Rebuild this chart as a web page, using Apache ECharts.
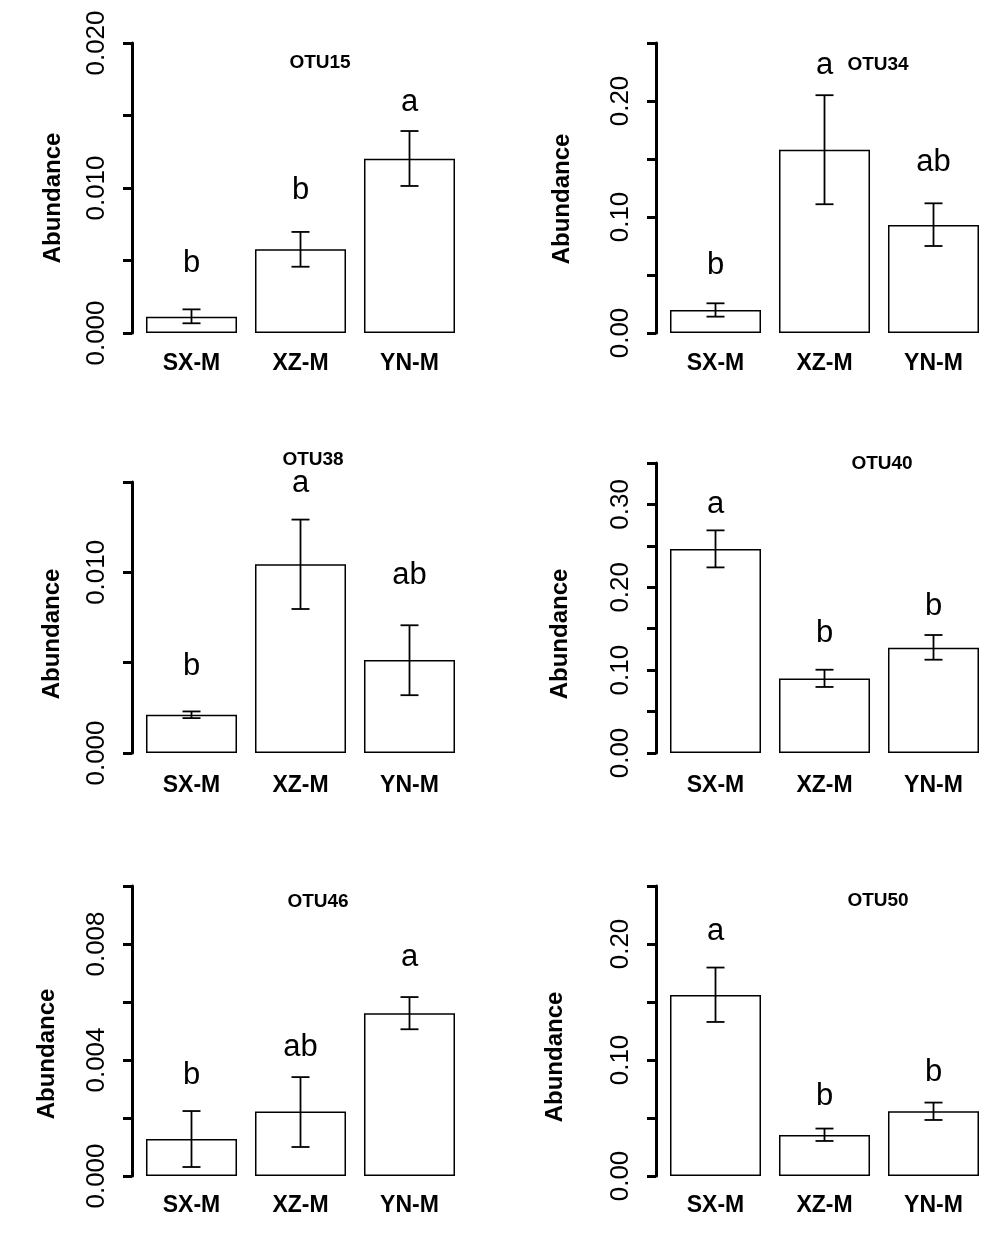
<!DOCTYPE html>
<html><head><meta charset="utf-8">
<script src="https://cdn.jsdelivr.net/npm/echarts@6/dist/echarts.min.js"></script>
<style>html,body{margin:0;padding:0;background:#fff}#c{width:1000px;height:1234px}</style>
</head><body><div id="c"></div>
<script>
// ---------- data ----------
const categories = ['SX-M', 'XZ-M', 'YN-M'];

const otu15Mean  = [0.00112, 0.00577, 0.01202];
const otu15Upper = [0.00163, 0.00697, 0.01393];
const otu15Lower = [0.00067, 0.00457, 0.01014];
const otu15Letters = ['b', 'b', 'a'];
const otu15LetterY = [0.00483, 0.00986, 0.01593];
const otu15Ticks = ['0.000', '0.010', '0.020'];

const otu34Mean  = [0.0198, 0.158, 0.0931];
const otu34Upper = [0.0256, 0.205, 0.1118];
const otu34Lower = [0.0141, 0.111, 0.075];
const otu34Letters = ['b', 'a', 'ab'];
const otu34LetterY = [0.0586, 0.231, 0.1474];
const otu34Ticks = ['0.00', '0.10', '0.20'];

const otu38Mean  = [0.00212, 0.01045, 0.00515];
const otu38Upper = [0.0023, 0.01292, 0.00707];
const otu38Lower = [0.00193, 0.00797, 0.0032];
const otu38Letters = ['b', 'a', 'ab'];
const otu38LetterY = [0.00478, 0.01491, 0.00985];
const otu38Ticks = ['0.000', '0.010'];

const otu40Mean  = [0.2462, 0.090, 0.127];
const otu40Upper = [0.2687, 0.1005, 0.1424];
const otu40Lower = [0.224, 0.0797, 0.1126];
const otu40Letters = ['a', 'b', 'b'];
const otu40LetterY = [0.2997, 0.1448, 0.1769];
const otu40Ticks = ['0.00', '0.10', '0.20', '0.30'];

const otu46Mean  = [0.001276, 0.00222, 0.00561];
const otu46Upper = [0.00224, 0.00341, 0.00617];
const otu46Lower = [0.00031, 0.001, 0.00506];
const otu46Letters = ['b', 'ab', 'a'];
const otu46LetterY = [0.00345, 0.00443, 0.00753];
const otu46Ticks = ['0.000', '0.004', '0.008'];

const otu50Mean  = [0.156, 0.0353, 0.0558];
const otu50Upper = [0.1797, 0.0409, 0.0633];
const otu50Lower = [0.1328, 0.0302, 0.0483];
const otu50Letters = ['a', 'b', 'b'];
const otu50LetterY = [0.2112, 0.069, 0.0891];
const otu50Ticks = ['0.00', '0.10', '0.20'];

// axis extents (max, tick interval)
const axisMax = [0.020, 0.25, 0.015, 0.35, 0.010, 0.25];
const axisInterval = [0.005, 0.05, 0.005, 0.05, 0.002, 0.05];

const panelNames = ['OTU15', 'OTU34', 'OTU38', 'OTU40', 'OTU46', 'OTU50'];
const panelData = [
  [otu15Mean, otu15Upper, otu15Lower, otu15Letters, otu15LetterY, otu15Ticks],
  [otu34Mean, otu34Upper, otu34Lower, otu34Letters, otu34LetterY, otu34Ticks],
  [otu38Mean, otu38Upper, otu38Lower, otu38Letters, otu38LetterY, otu38Ticks],
  [otu40Mean, otu40Upper, otu40Lower, otu40Letters, otu40LetterY, otu40Ticks],
  [otu46Mean, otu46Upper, otu46Lower, otu46Letters, otu46LetterY, otu46Ticks],
  [otu50Mean, otu50Upper, otu50Lower, otu50Letters, otu50LetterY, otu50Ticks]
];

// ---------- layout ----------
const FONT = '"Liberation Sans", Arial, Helvetica, sans-serif';
const grids = [
  { left: 137, top: 43,  width: 327, height: 290 },
  { left: 661, top: 43,  width: 327, height: 290 },
  { left: 137, top: 482, width: 327, height: 271 },
  { left: 661, top: 463, width: 327, height: 290 },
  { left: 137, top: 886, width: 327, height: 290 },
  { left: 661, top: 886, width: 327, height: 290 }
];
const titlePos = [[315, 48], [873, 50], [308, 445], [877, 449], [313, 887], [873, 886]];
const namePos = [[53, 198], [562, 199], [52, 634], [560, 634], [47, 1054], [555, 1057]];
const catMargin = [19, 19, 21, 21, 18, 18];

const option = {
  backgroundColor: '#ffffff',
  animation: false,
  title: [],
  grid: [],
  xAxis: [],
  yAxis: [],
  series: [],
  graphic: []
};

panelData.forEach(function (p, i) {
  const mean = p[0], upper = p[1], lower = p[2], letters = p[3], letterY = p[4], ticks = p[5];
  option.grid.push(Object.assign({ containLabel: false }, grids[i]));
  option.title.push({
    text: panelNames[i], left: titlePos[i][0], top: titlePos[i][1], textAlign: 'center',
    textStyle: { fontFamily: FONT, fontWeight: 'bold', fontSize: 19, color: '#000' }
  });
  option.xAxis.push({
    type: 'category', gridIndex: i, data: categories,
    axisLine: { show: false }, axisTick: { show: false }, splitLine: { show: false },
    axisLabel: { fontFamily: FONT, fontWeight: 'bold', fontSize: 23, color: '#000', margin: catMargin[i] }
  });
  option.yAxis.push({
    type: 'value', gridIndex: i, min: 0, max: axisMax[i], interval: axisInterval[i], offset: 5,
    axisLine: { show: true, lineStyle: { color: '#000', width: 3 } },
    axisTick: { show: true, length: 9, lineStyle: { color: '#000', width: 3 } },
    splitLine: { show: false },
    axisLabel: {
      rotate: 90, margin: 22, fontFamily: FONT, fontSize: 26, color: '#000',
      showMinLabel: true, showMaxLabel: true,
      formatter: function (v) {
        const s = ticks.find(function (t) { return Math.abs(parseFloat(t) - v) < 1e-9; });
        return s || '';
      }
    }
  });
  option.series.push({
    type: 'bar', xAxisIndex: i, yAxisIndex: i, data: mean, barWidth: '83.5%', z: 2,
    itemStyle: { color: '#ffffff', borderColor: '#000', borderWidth: 1.5 }
  });
  option.series.push({
    type: 'custom', xAxisIndex: i, yAxisIndex: i, clip: false, z: 10,
    data: mean.map(function (m, k) { return [k, lower[k], upper[k]]; }),
    encode: { x: 0, y: [1, 2] },
    renderItem: function (params, api) {
      const hi = api.coord([api.value(0), api.value(2)]);
      const lo = api.coord([api.value(0), api.value(1)]);
      const hw = 9;
      const st = { stroke: '#000', lineWidth: 1.8 };
      return {
        type: 'group', children: [
          { type: 'line', shape: { x1: hi[0], y1: hi[1], x2: lo[0], y2: lo[1] }, style: st },
          { type: 'line', shape: { x1: hi[0] - hw, y1: hi[1], x2: hi[0] + hw, y2: hi[1] }, style: st },
          { type: 'line', shape: { x1: lo[0] - hw, y1: lo[1], x2: lo[0] + hw, y2: lo[1] }, style: st }
        ]
      };
    }
  });
  option.series.push({
    type: 'custom', xAxisIndex: i, yAxisIndex: i, clip: false, z: 10,
    data: letters.map(function (l, k) { return [k, letterY[k], l]; }),
    encode: { x: 0, y: 1 },
    renderItem: function (params, api) {
      const pt = api.coord([api.value(0), api.value(1)]);
      return {
        type: 'text', x: pt[0], y: pt[1],
        style: {
          text: letters[params.dataIndex], font: '31px ' + FONT, fill: '#000',
          align: 'center', verticalAlign: 'middle', textAlign: 'center', textVerticalAlign: 'middle'
        }
      };
    }
  });
  option.graphic.push({
    type: 'text', x: namePos[i][0], y: namePos[i][1], rotation: Math.PI / 2,
    style: {
      text: 'Abundance', font: 'bold 24px ' + FONT, fill: '#000',
      align: 'center', verticalAlign: 'middle', textAlign: 'center', textVerticalAlign: 'middle'
    }
  });
});

const chart = echarts.init(document.getElementById('c'), null, { renderer: 'canvas' });
chart.setOption(option);
</script>
</body></html>
